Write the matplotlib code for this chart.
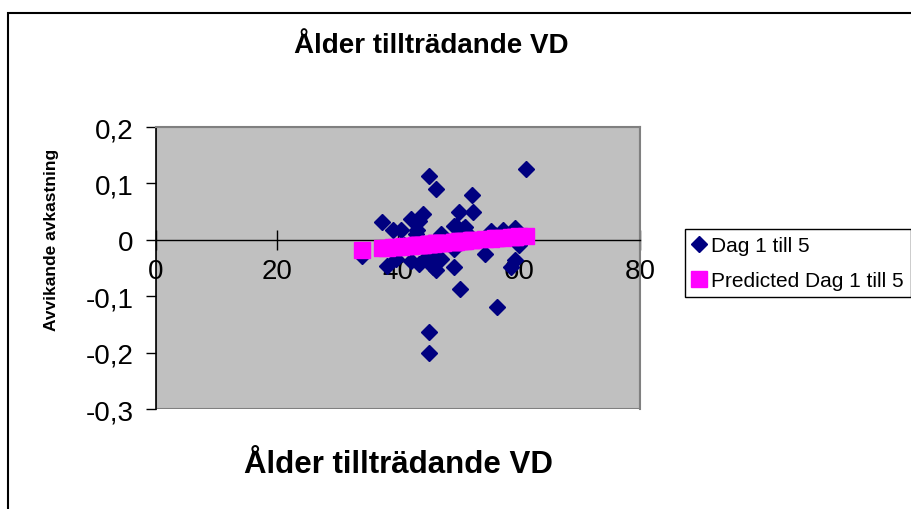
import matplotlib.pyplot as plt
from matplotlib.patches import Rectangle
from matplotlib.ticker import FuncFormatter

plt.rcParams['font.family'] = ['Liberation Sans', 'DejaVu Sans']

# Ålder tillträdande VD vs avvikande avkastning (dag 1 till 5)
alder = [61.2, 45.2, 46.3, 52.3, 52.4, 50.1, 37.3, 42.1, 44.2, 43.4,
         39.1, 40.5, 43.0, 43.2, 49.3, 49.6, 50.7, 51.0, 47.1, 55.4,
         57.3, 59.3, 34.1, 38.2, 39.6, 42.1, 43.5, 44.9, 46.3, 46.3,
         45.8, 49.3, 49.3, 50.3, 54.3, 56.3, 58.7, 59.3, 45.2, 45.2,
         47.1, 44.0, 47.5, 52.0, 56.0, 41.0, 60.0]
avkastning = [0.125, 0.113, 0.090, 0.079, 0.050, 0.049, 0.031, 0.037, 0.046, 0.034,
              0.017, 0.017, 0.011, 0.017, 0.024, 0.025, 0.020, 0.023, 0.011, 0.015,
              0.017, 0.021, -0.029, -0.046, -0.034, -0.037, -0.043, -0.028, -0.034, -0.054,
              -0.048, -0.048, -0.017, -0.087, -0.025, -0.119, -0.048, -0.035, -0.164, -0.200,
              -0.034, -0.005, 0.000, 0.005, 0.008, -0.010, -0.010]
predicted = [0.0073, -0.0076, -0.0065, -0.0010, -0.0009, -0.0030, -0.0149, -0.0104, -0.0085, -0.0092,
             -0.0132, -0.0119, -0.0096, -0.0094, -0.0038, -0.0035, -0.0025, -0.0022, -0.0058, 0.0019,
             0.0037, 0.0055, -0.0179, -0.0141, -0.0128, -0.0104, -0.0091, -0.0078, -0.0065, -0.0065,
             -0.0070, -0.0038, -0.0038, -0.0028, 0.0009, 0.0028, 0.0050, 0.0055, -0.0076, -0.0076,
             -0.0058, -0.0087, -0.0054, -0.0012, 0.0025, -0.0115, 0.0062]

x_ticks = [0, 20, 40, 60, 80]
y_ticks = [-0.3, -0.2, -0.1, 0, 0.1, 0.2]

fig = plt.figure(figsize=(9.12, 5.10), dpi=100)
fig.patches.append(Rectangle((8 / 912, -0.1), 1.2, 1.1 - 14 / 510,
                             transform=fig.transFigure, fill=False,
                             edgecolor='black', linewidth=1.5))

ax = fig.add_axes([156 / 912, 100 / 510, 484 / 912, 282 / 510])
ax.set_facecolor('#c0c0c0')

ax.plot(alder, avkastning, linestyle='none', marker='D', markersize=8,
        color='#000080', label='Dag 1 till 5', zorder=3)
ax.plot(alder, predicted, linestyle='none', marker='s', markersize=11,
        color='#ff00ff', label='Predicted Dag 1 till 5', zorder=4)

ax.set_xlim(0, 80)
ax.set_ylim(-0.3, 0.2)
ax.set_xticks(x_ticks)
ax.set_yticks(y_ticks)

fmt = FuncFormatter(lambda v, p: ('%g' % round(v, 2)).replace('.', ','))
ax.xaxis.set_major_formatter(fmt)
ax.yaxis.set_major_formatter(fmt)

ax.spines['bottom'].set_position(('data', 0))
ax.spines['bottom'].set_linewidth(1)
ax.spines['left'].set_linewidth(1.2)
for s in ['top', 'right']:
    ax.spines[s].set_color('#808080')
    ax.spines[s].set_linewidth(1.5)
# bottom edge of the plot area
ax.add_patch(Rectangle((0, 0), 1, 1, transform=ax.transAxes, fill=False,
                       edgecolor='#808080', linewidth=1.5, zorder=0.5))

ax.tick_params(axis='x', direction='inout', length=14, width=1, labelsize=20, pad=6)
ax.tick_params(axis='y', direction='out', length=7, width=1, labelsize=20, pad=9)

fig.text(431 / 912, 1 - 46 / 510, 'Ålder tillträdande VD', ha='center', va='center',
         fontsize=20, fontweight='bold')
fig.text(398 / 912, 1 - 465 / 510, 'Ålder tillträdande VD', ha='center', va='center',
         fontsize=22.5, fontweight='bold')
fig.text(52 / 912, 1 - 240 / 510, 'Avvikande avkastning', ha='center', va='center',
         rotation=90, fontsize=12.5, fontweight='bold')

leg = fig.legend(loc='upper left', bbox_to_anchor=(685 / 912, 1 - 230 / 510),
                 fontsize=15, frameon=True, fancybox=False, framealpha=1,
                 edgecolor='black', handlelength=0.6, handletextpad=0.3,
                 borderpad=0.35, labelspacing=0.75, borderaxespad=0)
leg.get_frame().set_linewidth(1)

fig.savefig('out.png', dpi=100)
